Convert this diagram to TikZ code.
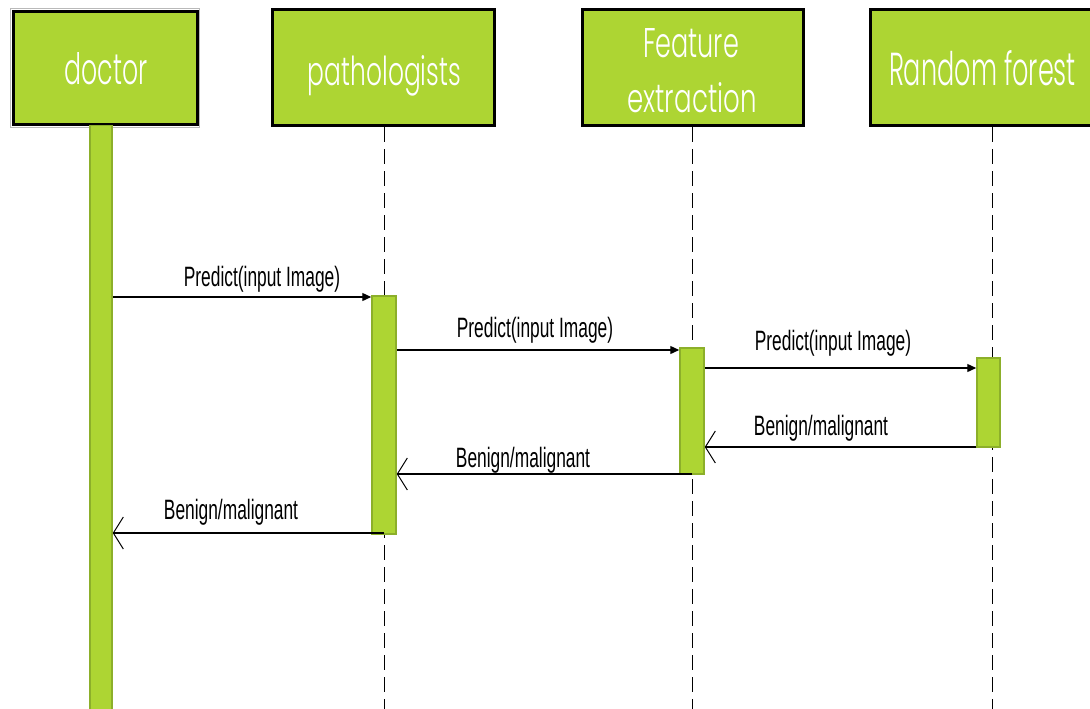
\documentclass[tikz,border=0pt]{standalone}
\usepackage{fontspec}
\usepackage{graphicx}
\setmainfont{Liberation Sans}
\newfontfamily\boxfont{Poppins}[UprightFont=* Light]
\newfontfamily\lblfont{Liberation Sans}[FakeStretch=0.62]
\usetikzlibrary{arrows.meta}
\definecolor{lime}{HTML}{ADD533}
\definecolor{limedark}{HTML}{8CAF2A}
\begin{document}
\begin{tikzpicture}[x=1pt,y=-1pt,
  head/.style={draw=black,line width=3pt,fill=lime,inner sep=0pt},
  htxt/.style={text=white,font=\boxfont\fontsize{40}{48}\selectfont,inner sep=0pt,anchor=base},
  act/.style={draw=limedark,line width=1.5pt,fill=lime,inner sep=0pt},
  life/.style={line width=0.9pt,dash pattern=on 15pt off 7pt},
  msg/.style={line width=1.3pt,-{Triangle[length=9pt,width=8pt]}},
  ret/.style={line width=1.3pt,-{Straight Barb[length=10pt,width=32pt,line width=1pt]}},
  lbl/.style={font=\lblfont\fontsize{28}{30}\selectfont,inner sep=0pt}]
\useasboundingbox (0,0) rectangle (1090,709);
% heads
\draw[gray!55,line width=1.5pt] (10.5,8.5) rectangle (199.5,127.5);
\node[head,minimum width=184,minimum height=112] (doc) at (105,68) {};
\node[head,minimum width=222,minimum height=115] (pat) at (383,67.5) {};
\node[head,minimum width=221,minimum height=115] (fea) at (692.5,67.5) {};
\node[head,minimum width=222,minimum height=115] (rnd) at (981,67.5) {};
\node[htxt] (doct) at (106,84) {\resizebox{83pt}{32pt}{doctor}};
\node[htxt] (patt) at (384.5,85) {\resizebox{153pt}{30pt}{pathologists}};
\node[htxt] (feat1) at (691,57) {\resizebox{96pt}{29pt}{Feature}};
\node[htxt] (feat2) at (692,112) {\resizebox{129pt}{30pt}{extraction}};
\node[htxt] (rndt) at (982.5,85) {\resizebox{187pt}{35pt}{Random forest}};
% lifelines
\coordinate (bot) at (0,712);
\draw[life] (384,127) coordinate (pl) -- (pl |- bot);
\draw[life] (692,127) coordinate (fl) -- (fl |- bot);
\draw[life] (992,127) coordinate (rl) -- (rl |- bot);
% activation bars
\node[act,minimum width=22,minimum height=590,anchor=north] (docbar) at (101,124.5) {};
\node[act,minimum width=24,minimum height=238,anchor=north] (pa) at (384,295) {};
\node[act,minimum width=24,minimum height=126,anchor=north] (fe) at (692,347) {};
\node[act,minimum width=23,minimum height=89,anchor=north] (rf) at (988.5,357) {};
% message heights
\coordinate (y1) at (0,297);
\coordinate (y2) at (0,350);
\coordinate (y3) at (0,368);
\coordinate (y4) at (0,447);
\coordinate (y5) at (0,474);
\coordinate (y6) at (0,533);
% messages
\draw[msg] (docbar.east |- y1) -- (pa.west |- y1);
\node[lbl] (l1) at (262,279) {Predict(input Image)};
\draw[msg] (pa.east |- y2) -- (fe.west |- y2);
\node[lbl] (l2) at (535,330) {Predict(input Image)};
\draw[msg] (fe.east |- y3) -- (rf.west |- y3);
\node[lbl] (l3) at (833,343) {Predict(input Image)};
\draw[ret] (rf.west |- y4) -- (fe.east |- y4);
\node[lbl] (l4) at (821,428) {Benign/malignant};
\draw[ret] (fl |- y5) -- (pa.east |- y5);
\node[lbl] (l5) at (523,460) {Benign/malignant};
\draw[ret] (pl |- y6) -- (docbar.east |- y6);
\node[lbl] (l6) at (231,512) {Benign/malignant};
\end{tikzpicture}
\end{document}
